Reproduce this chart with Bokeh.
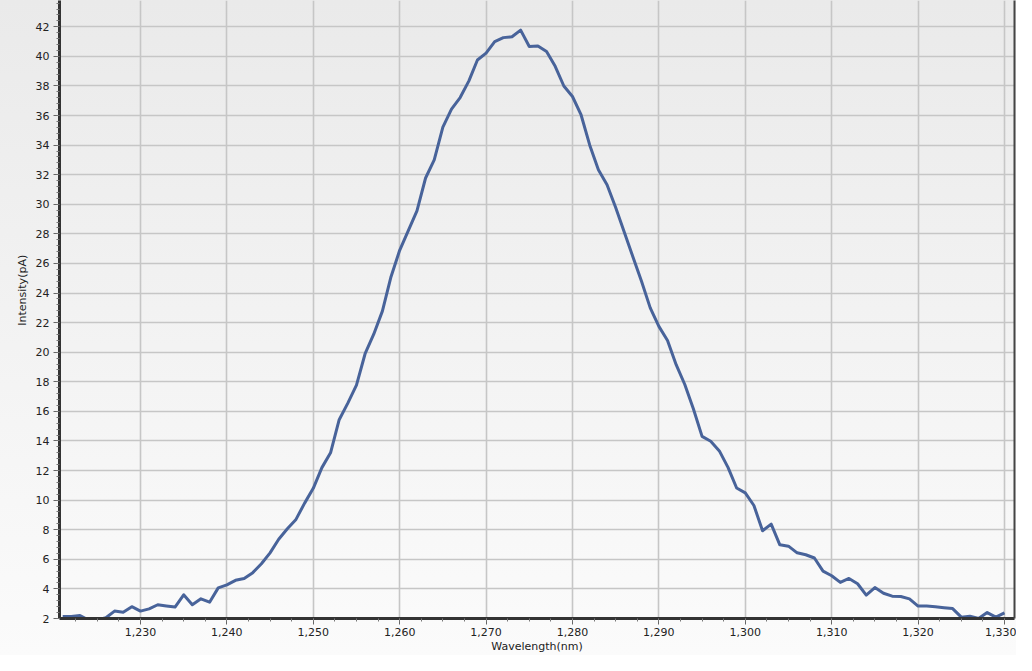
from bokeh.plotting import figure
from bokeh.models import (ColumnDataSource, Range1d, SingleIntervalTicker, NumeralTickFormatter,
                          LinearAxis, FixedTicker)
from bokeh.embed import file_html
from bokeh.resources import INLINE

wavelength = list(range(1221, 1331))
intensity = [
    2.13, 2.13, 2.20, 1.90, 1.90, 2.05, 2.50, 2.42, 2.80, 2.50,
    2.65, 2.93, 2.85, 2.77, 3.60, 2.93, 3.33, 3.10, 4.07, 4.27,
    4.58, 4.70, 5.10, 5.70, 6.44, 7.36, 8.07, 8.70, 9.80, 10.80,
    12.20, 13.20, 15.44, 16.56, 17.78, 19.90, 21.22, 22.78, 25.11, 26.89,
    28.22, 29.56, 31.78, 33.00, 35.22, 36.44, 37.22, 38.33, 39.76, 40.22,
    41.00, 41.27, 41.33, 41.78, 40.67, 40.71, 40.33, 39.33, 38.00, 37.29,
    36.04, 34.00, 32.33, 31.33, 29.78, 28.11, 26.44, 24.78, 23.00, 21.75,
    20.80, 19.16, 17.82, 16.16, 14.31, 13.98, 13.33, 12.22, 10.82, 10.49,
    9.64, 7.93, 8.38, 6.98, 6.89, 6.44, 6.31, 6.09, 5.20, 4.89,
    4.44, 4.71, 4.35, 3.58, 4.09, 3.71, 3.51, 3.49, 3.33, 2.84,
    2.84, 2.80, 2.73, 2.67, 2.09, 2.16, 2.00, 2.40, 2.09, 2.38,
]
x_label = "Wavelength(nm)"
y_label = "Intensity(pA)"

source = ColumnDataSource(data=dict(x=wavelength, y=intensity))

p = figure(width=1016, height=655, output_backend="svg", toolbar_location=None,
           x_range=Range1d(1220.63, 1331.16), y_range=Range1d(2, 43.78),
           min_border_left=59, min_border_right=2, min_border_top=0, min_border_bottom=34)

p.background_fill_alpha = 0
p.border_fill_alpha = 0
p.outline_line_color = None
p.styles = {"background-image": "linear-gradient(to bottom, #eaeaea, #fbfbfb)"}

p.line("x", "y", source=source, line_color="#48639a", line_width=3, line_join="round")

tick_font = "DejaVu Sans"
for ax in (p.xaxis[0], p.yaxis[0]):
    ax.axis_line_color = "#333333"
    ax.axis_line_width = 3
    ax.major_tick_line_color = "#666666"
    ax.minor_tick_line_color = "#777777"
    ax.major_tick_out = 6
    ax.major_tick_in = 0
    ax.minor_tick_out = 3
    ax.minor_tick_in = 0
    ax.major_label_text_font = tick_font
    ax.major_label_text_font_size = "11px"
    ax.major_label_text_color = "#222222"
    ax.axis_label_text_font = tick_font
    ax.axis_label_text_font_size = "11px"
    ax.axis_label_text_font_style = "normal"
    ax.axis_label_text_color = "#222222"

p.xaxis.ticker = SingleIntervalTicker(interval=10, num_minor_ticks=4)
p.xaxis.formatter = NumeralTickFormatter(format="0,0")
p.xaxis.axis_label = x_label
p.xaxis.major_label_standoff = 3
p.xaxis.axis_label_standoff = 1

p.yaxis.ticker = SingleIntervalTicker(interval=2, num_minor_ticks=5)
p.yaxis.axis_label = "\u00a0" * 11 + y_label
p.yaxis.major_label_standoff = 4
p.yaxis.axis_label_standoff = 4

right = LinearAxis(ticker=FixedTicker(ticks=[]), major_tick_line_color=None,
                   minor_tick_line_color=None, axis_line_color="#444444",
                   axis_line_width=2, major_label_standoff=0)
p.add_layout(right, "right")

p.grid.grid_line_color = "#c6c6c6"
p.grid.grid_line_width = 1.6
p.xgrid.ticker = p.xaxis[0].ticker
p.ygrid.ticker = p.yaxis[0].ticker

open("out.html", "w").write(file_html(p, INLINE))
